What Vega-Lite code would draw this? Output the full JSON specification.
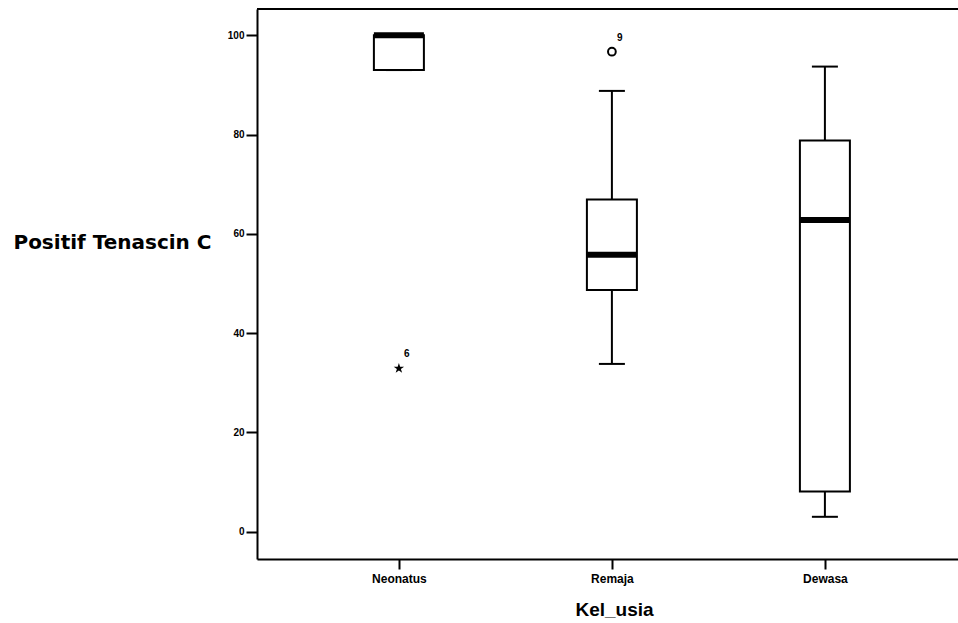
{
  "$schema": "https://vega.github.io/schema/vega-lite/v6.json",
  "width": 701,
  "height": 550,
  "autosize": "none",
  "padding": {"left": 257, "top": 9, "right": 0, "bottom": 64},
  "background": "white",
  "config": {
    "view": {"stroke": null},
    "axis": {"labelFont": "Liberation Sans", "titleFont": "Liberation Sans", "labelColor": "black", "titleColor": "black", "domainColor": "black", "tickColor": "black", "grid": false}
  },
  "datasets": {
    "boxes": [
      {"Kel_usia": "Neonatus", "min": 93.0, "q1": 93.0, "median": 100.0, "q3": 100.0, "max": 100.0},
      {"Kel_usia": "Remaja", "min": 33.8, "q1": 48.7, "median": 55.8, "q3": 66.9, "max": 88.8},
      {"Kel_usia": "Dewasa", "min": 3.0, "q1": 8.1, "median": 62.8, "q3": 78.8, "max": 93.7}
    ],
    "outliers": [
      {"Kel_usia": "Neonatus", "value": 32.9, "case": "6", "kind": "extreme"},
      {"Kel_usia": "Remaja", "value": 96.7, "case": "9", "kind": "outlier"}
    ]
  },
  "encoding": {
    "x": {
      "field": "Kel_usia", "type": "nominal", "sort": ["Neonatus", "Remaja", "Dewasa"],
      "scale": {"type": "point", "domain": ["Neonatus", "Remaja", "Dewasa"], "padding": 0.6455, "align": 0.516},
      "axis": {"title": "Kel_usia", "labelAngle": 0, "labelFontSize": 12, "labelFontWeight": "bold", "labelPadding": 4, "tickSize": 10, "tickWidth": 2, "domainWidth": 2, "titleFontSize": 19, "titleFontWeight": "bold", "titleX": 357, "titleY": 56, "titleBaseline": "alphabetic"}
    }
  },
  "layer": [
    {
      "data": {"name": "boxes"},
      "mark": {"type": "rule", "color": "black", "strokeWidth": 2},
      "encoding": {
        "y": {"field": "min", "type": "quantitative", "scale": {"domain": [-5.5, 105.3], "nice": false, "zero": false},
          "axis": {"values": [0, 20, 40, 60, 80, 100], "title": "Positif Tenascin C", "titleAngle": 0, "titleAlign": "right", "titleBaseline": "middle", "titleX": -46, "titleY": 233, "titleFont": "DejaVu Sans", "titleFontSize": 20, "titleFontWeight": "bold", "labelFontSize": 10, "labelFontWeight": "bold", "labelPadding": 2, "tickSize": 11, "tickWidth": 2, "domainWidth": 2}},
        "y2": {"field": "q1"}
      }
    },
    {
      "data": {"name": "boxes"},
      "mark": {"type": "rule", "color": "black", "strokeWidth": 2},
      "encoding": {"y": {"field": "q3", "type": "quantitative"}, "y2": {"field": "max"}}
    },
    {
      "data": {"name": "boxes"},
      "mark": {"type": "tick", "color": "black", "size": 26, "thickness": 2, "opacity": 1},
      "encoding": {"y": {"field": "max", "type": "quantitative"}}
    },
    {
      "data": {"name": "boxes"},
      "mark": {"type": "tick", "color": "black", "size": 26, "thickness": 2, "opacity": 1},
      "encoding": {"y": {"field": "min", "type": "quantitative"}}
    },
    {
      "data": {"name": "boxes"},
      "mark": {"type": "bar", "size": 50, "fill": "white", "stroke": "black", "strokeWidth": 2},
      "encoding": {"y": {"field": "q1", "type": "quantitative"}, "y2": {"field": "q3"}}
    },
    {
      "data": {"name": "boxes"},
      "mark": {"type": "tick", "color": "black", "size": 50, "thickness": 6, "opacity": 1},
      "encoding": {"y": {"field": "median", "type": "quantitative"}}
    },
    {
      "data": {"name": "outliers"},
      "transform": [{"filter": "datum.kind === 'extreme'"}],
      "mark": {"type": "point", "shape": "M0,-1L0.2245,-0.309L0.951,-0.309L0.363,0.118L0.588,0.809L0,0.382L-0.588,0.809L-0.363,0.118L-0.951,-0.309L-0.2245,-0.309Z", "filled": true, "color": "black", "size": 120, "opacity": 1},
      "encoding": {"y": {"field": "value", "type": "quantitative"}}
    },
    {
      "data": {"name": "outliers"},
      "transform": [{"filter": "datum.kind === 'outlier'"}],
      "mark": {"type": "point", "shape": "circle", "filled": false, "color": "black", "strokeWidth": 2, "size": 60, "opacity": 1},
      "encoding": {"y": {"field": "value", "type": "quantitative"}}
    },
    {
      "data": {"name": "outliers"},
      "mark": {"type": "text", "font": "Liberation Sans", "fontSize": 10, "fontWeight": "bold", "color": "black", "dx": 8, "dy": -14},
      "encoding": {"y": {"field": "value", "type": "quantitative"}, "text": {"field": "case"}}
    },
    {
      "data": {"values": [{}]},
      "mark": {"type": "rule", "color": "black", "strokeWidth": 2},
      "encoding": {"y": {"datum": 105.3, "type": "quantitative"}, "x": {"value": 0}, "x2": {"value": 701}}
    }
  ]
}
